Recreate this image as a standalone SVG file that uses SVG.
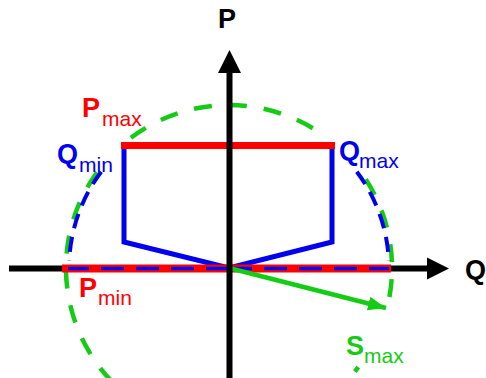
<svg xmlns="http://www.w3.org/2000/svg" width="486" height="378" viewBox="0 0 486 378">
<style>
.green{fill:none;stroke:#14cc14;stroke-width:4.5;stroke-dasharray:18 17}
.bdash{fill:none;stroke:#0000f0;stroke-width:4;stroke-dasharray:15 9}
.axis{fill:none;stroke:#000;stroke-width:6}
.main{font-family:"Liberation Sans",Arial,sans-serif;font-weight:bold;font-size:27px}
.sub{font-family:"Liberation Sans",Arial,sans-serif;font-size:21px}
.red{fill:#ff0000}
.blue{fill:#0000f0}
.grn{fill:#14cc14}
</style>
<defs>
<marker id="ga" markerUnits="userSpaceOnUse" markerWidth="20" markerHeight="16" refX="18" refY="7" orient="auto">
<path d="M0,0 L18,7 L0,14 Z" fill="#14cc14"/>
</marker>
</defs>
<g id="q-axis">
<line class="axis" x1="9" y1="268.5" x2="430" y2="268.5"/>
<polygon points="449,268.5 427,257.5 427,279.5" fill="#000"/>
</g>
<g id="circle">
<path class="green" d="M130.9,137.8 A163,163 0 0 1 322.5,134.5"/>
<path class="green" d="M365.7,179.2 A163,163 0 0 1 387.2,307.4"/>
<path class="green" d="M358.3,367.2 A163,163 0 0 1 354.8,371.7"/>
<path class="green" d="M97.1,172.2 A163,163 0 0 0 124.2,392.9"/>
</g>
<g id="region">
<polyline points="124,146 124,242 229,268 332,242 332,146" fill="none" stroke="#0000f0" stroke-width="5" stroke-linejoin="miter"/>
</g>
<g id="pmax-line">
<line x1="121" y1="145.5" x2="335" y2="145.5" stroke="#ff0000" stroke-width="7"/>
</g>
<g id="pmin-line">
<line x1="62" y1="268.5" x2="391" y2="268.5" stroke="#ff0000" stroke-width="8"/>
<line x1="229" y1="268.5" x2="68" y2="268.5" stroke="#0000f0" stroke-width="3.5" stroke-dasharray="23 12"/>
<line x1="229" y1="268.5" x2="389" y2="268.5" stroke="#0000f0" stroke-width="3.5" stroke-dasharray="23 12"/>
</g>
<g id="q-limits">
<path class="bdash" d="M356.8,171.7 A160,160 0 0 1 388.8,261.0"/>
<path class="bdash" d="M101.2,171.7 A160,160 0 0 0 69.2,261.0"/>
</g>
<g id="connectors">
<line x1="229" y1="268" x2="386" y2="308" stroke="#14cc14" stroke-width="4.5" marker-end="url(#ga)"/>
</g>
<g id="p-axis">
<line class="axis" x1="229.5" y1="378" x2="229.5" y2="70"/>
<polygon points="229.5,50 218,73 241,73" fill="#000"/>
</g>
<g id="labels">
<text class="main" x="218" y="28" fill="#000">P</text>
<text class="main" x="465" y="279" fill="#000">Q</text>
<text class="main red" x="82" y="117">P</text><text class="sub red" x="102" y="126">max</text>
<text class="main blue" x="57" y="163">Q</text><text class="sub blue" x="79" y="172">min</text>
<text class="main blue" x="339" y="160">Q</text><text class="sub blue" x="359" y="168">max</text>
<text class="main red" x="79" y="297">P</text><text class="sub red" x="98" y="305">min</text>
<text class="main grn" x="346" y="355">S</text><text class="sub grn" x="364" y="363">max</text>
</g>
</svg>
